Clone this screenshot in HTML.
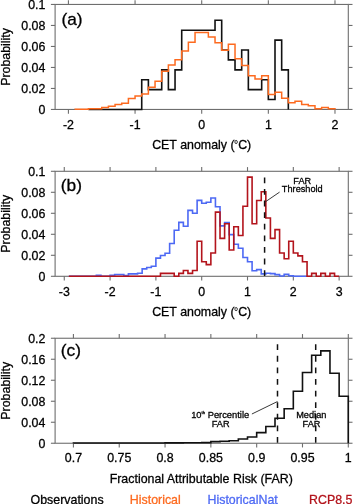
<!DOCTYPE html><html><head><meta charset="utf-8"><style>html,body{margin:0;padding:0;background:#fff;}svg{display:block;will-change:transform;}text{font-family:"Liberation Sans", sans-serif;fill:#000;stroke:#000;stroke-width:0.28px;}</style></head><body>
<svg width="357" height="504" viewBox="0 0 357 504">
<rect width="357" height="504" fill="#fff"/>
<rect x="55.1" y="4.45" width="293.2" height="105" fill="none" stroke="#6e6e6e" stroke-width="1.1"/>
<line x1="68.42" y1="109.45" x2="68.42" y2="113.65" stroke="#6e6e6e" stroke-width="1.1"/>
<line x1="68.42" y1="4.45" x2="68.42" y2="0.25" stroke="#6e6e6e" stroke-width="1.1"/>
<line x1="135.06" y1="109.45" x2="135.06" y2="113.65" stroke="#6e6e6e" stroke-width="1.1"/>
<line x1="135.06" y1="4.45" x2="135.06" y2="0.25" stroke="#6e6e6e" stroke-width="1.1"/>
<line x1="201.7" y1="109.45" x2="201.7" y2="113.65" stroke="#6e6e6e" stroke-width="1.1"/>
<line x1="201.7" y1="4.45" x2="201.7" y2="0.25" stroke="#6e6e6e" stroke-width="1.1"/>
<line x1="268.34" y1="109.45" x2="268.34" y2="113.65" stroke="#6e6e6e" stroke-width="1.1"/>
<line x1="268.34" y1="4.45" x2="268.34" y2="0.25" stroke="#6e6e6e" stroke-width="1.1"/>
<line x1="334.98" y1="109.45" x2="334.98" y2="113.65" stroke="#6e6e6e" stroke-width="1.1"/>
<line x1="334.98" y1="4.45" x2="334.98" y2="0.25" stroke="#6e6e6e" stroke-width="1.1"/>
<line x1="55.1" y1="109.45" x2="50.9" y2="109.45" stroke="#6e6e6e" stroke-width="1.1"/>
<line x1="348.3" y1="109.45" x2="352.5" y2="109.45" stroke="#6e6e6e" stroke-width="1.1"/>
<line x1="55.1" y1="88.45" x2="50.9" y2="88.45" stroke="#6e6e6e" stroke-width="1.1"/>
<line x1="348.3" y1="88.45" x2="352.5" y2="88.45" stroke="#6e6e6e" stroke-width="1.1"/>
<line x1="55.1" y1="67.45" x2="50.9" y2="67.45" stroke="#6e6e6e" stroke-width="1.1"/>
<line x1="348.3" y1="67.45" x2="352.5" y2="67.45" stroke="#6e6e6e" stroke-width="1.1"/>
<line x1="55.1" y1="46.45" x2="50.9" y2="46.45" stroke="#6e6e6e" stroke-width="1.1"/>
<line x1="348.3" y1="46.45" x2="352.5" y2="46.45" stroke="#6e6e6e" stroke-width="1.1"/>
<line x1="55.1" y1="25.45" x2="50.9" y2="25.45" stroke="#6e6e6e" stroke-width="1.1"/>
<line x1="348.3" y1="25.45" x2="352.5" y2="25.45" stroke="#6e6e6e" stroke-width="1.1"/>
<line x1="55.1" y1="4.45" x2="50.9" y2="4.45" stroke="#6e6e6e" stroke-width="1.1"/>
<line x1="348.3" y1="4.45" x2="352.5" y2="4.45" stroke="#6e6e6e" stroke-width="1.1"/>
<text x="68.42" y="128.85" text-anchor="middle" font-size="12.4">-2</text>
<text x="135.06" y="128.85" text-anchor="middle" font-size="12.4">-1</text>
<text x="201.7" y="128.85" text-anchor="middle" font-size="12.4">0</text>
<text x="268.34" y="128.85" text-anchor="middle" font-size="12.4">1</text>
<text x="334.98" y="128.85" text-anchor="middle" font-size="12.4">2</text>
<text x="45.4" y="113.75" text-anchor="end" font-size="12.4">0</text>
<text x="45.4" y="92.75" text-anchor="end" font-size="12.4">0.02</text>
<text x="45.4" y="71.75" text-anchor="end" font-size="12.4">0.04</text>
<text x="45.4" y="50.75" text-anchor="end" font-size="12.4">0.06</text>
<text x="45.4" y="29.75" text-anchor="end" font-size="12.4">0.08</text>
<text x="45.4" y="8.75" text-anchor="end" font-size="12.4">0.1</text>
<path d="M88.41,109.45 L88.41,109.45 L95.08,109.45 L95.08,109.45 L101.74,109.45 L101.74,109.45 L108.4,109.45 L108.4,109.45 L115.07,109.45 L115.07,109.45 L121.73,109.45 L121.73,109.45 L128.4,109.45 L128.4,109.45 L135.06,109.45 L135.06,109.45 L141.72,109.45 L141.72,79.73 L148.39,79.73 L148.39,89.64 L155.05,89.64 L155.05,89.64 L161.72,89.64 L161.72,69.83 L168.38,69.83 L168.38,89.64 L175.04,89.64 L175.04,69.83 L181.71,69.83 L181.71,30.2 L188.37,30.2 L188.37,30.2 L195.04,30.2 L195.04,30.2 L201.7,30.2 L201.7,30.2 L208.36,30.2 L208.36,30.2 L215.03,30.2 L215.03,20.3 L221.69,20.3 L221.69,50.02 L228.36,50.02 L228.36,59.92 L235.02,59.92 L235.02,69.83 L241.68,69.83 L241.68,50.02 L248.35,50.02 L248.35,89.64 L255.01,89.64 L255.01,89.64 L261.68,89.64 L261.68,79.73 L268.34,79.73 L268.34,99.54 L275,99.54 L275,40.11 L281.67,40.11 L281.67,69.83 L288.33,69.83 L288.33,109.45" fill="none" stroke="#111" stroke-width="1.6" stroke-linejoin="miter"/>
<path d="M75.08,109.45 L75.08,109.15 L81.75,109.15 L81.75,109.15 L88.41,109.15 L88.41,108.75 L95.08,108.75 L95.08,108.75 L101.74,108.75 L101.74,107.55 L108.4,107.55 L108.4,106.25 L115.07,106.25 L115.07,104.55 L121.73,104.55 L121.73,103.25 L128.4,103.25 L128.4,98.45 L135.06,98.45 L135.06,96.05 L141.72,96.05 L141.72,94.05 L148.39,94.05 L148.39,87.25 L155.05,87.25 L155.05,81.25 L161.72,81.25 L161.72,71.35 L168.38,71.35 L168.38,64.95 L175.04,64.95 L175.04,59.85 L181.71,59.85 L181.71,51.05 L188.37,51.05 L188.37,42.15 L195.04,42.15 L195.04,32.45 L201.7,32.45 L201.7,32.45 L208.36,32.45 L208.36,37.05 L215.03,37.05 L215.03,42.65 L221.69,42.65 L221.69,50.15 L228.36,50.15 L228.36,44.35 L235.02,44.35 L235.02,58.85 L241.68,58.85 L241.68,65.55 L248.35,65.55 L248.35,75.65 L255.01,75.65 L255.01,79.05 L261.68,79.05 L261.68,75.65 L268.34,75.65 L268.34,94.45 L275,94.45 L275,92.25 L281.67,92.25 L281.67,98.25 L288.33,98.25 L288.33,102.65 L295,102.65 L295,101.35 L301.66,101.35 L301.66,104.55 L308.32,104.55 L308.32,105.85 L314.99,105.85 L314.99,108.75 L321.65,108.75 L321.65,107.55 L328.32,107.55 L328.32,108.75 L334.98,108.75 L334.98,109.45" fill="none" stroke="#fd6a1f" stroke-width="1.5"/>
<text transform="translate(61.4,24.8) scale(1.08,1)" font-size="16">(a)</text>
<ellipse cx="236.1" cy="142.0" rx="1.25" ry="1.6" fill="none" stroke="#000" stroke-width="0.75"/>
<text x="201.7" y="148.9" text-anchor="middle" font-size="12.4">CET anomaly (<tspan font-size="6.5" dy="-4.6" style="fill:none;stroke:none">o</tspan><tspan dy="4.6">C)</tspan></text>
<text transform="translate(9.7,56.95) rotate(-90)" text-anchor="middle" font-size="12.4">Probability</text>
<rect x="55.1" y="171.3" width="293.2" height="105" fill="none" stroke="#6e6e6e" stroke-width="1.1"/>
<line x1="64.27" y1="276.3" x2="64.27" y2="280.5" stroke="#6e6e6e" stroke-width="1.1"/>
<line x1="64.27" y1="171.3" x2="64.27" y2="167.1" stroke="#6e6e6e" stroke-width="1.1"/>
<line x1="110.08" y1="276.3" x2="110.08" y2="280.5" stroke="#6e6e6e" stroke-width="1.1"/>
<line x1="110.08" y1="171.3" x2="110.08" y2="167.1" stroke="#6e6e6e" stroke-width="1.1"/>
<line x1="155.89" y1="276.3" x2="155.89" y2="280.5" stroke="#6e6e6e" stroke-width="1.1"/>
<line x1="155.89" y1="171.3" x2="155.89" y2="167.1" stroke="#6e6e6e" stroke-width="1.1"/>
<line x1="201.7" y1="276.3" x2="201.7" y2="280.5" stroke="#6e6e6e" stroke-width="1.1"/>
<line x1="201.7" y1="171.3" x2="201.7" y2="167.1" stroke="#6e6e6e" stroke-width="1.1"/>
<line x1="247.51" y1="276.3" x2="247.51" y2="280.5" stroke="#6e6e6e" stroke-width="1.1"/>
<line x1="247.51" y1="171.3" x2="247.51" y2="167.1" stroke="#6e6e6e" stroke-width="1.1"/>
<line x1="293.32" y1="276.3" x2="293.32" y2="280.5" stroke="#6e6e6e" stroke-width="1.1"/>
<line x1="293.32" y1="171.3" x2="293.32" y2="167.1" stroke="#6e6e6e" stroke-width="1.1"/>
<line x1="339.13" y1="276.3" x2="339.13" y2="280.5" stroke="#6e6e6e" stroke-width="1.1"/>
<line x1="339.13" y1="171.3" x2="339.13" y2="167.1" stroke="#6e6e6e" stroke-width="1.1"/>
<line x1="55.1" y1="276.3" x2="50.9" y2="276.3" stroke="#6e6e6e" stroke-width="1.1"/>
<line x1="348.3" y1="276.3" x2="352.5" y2="276.3" stroke="#6e6e6e" stroke-width="1.1"/>
<line x1="55.1" y1="255.3" x2="50.9" y2="255.3" stroke="#6e6e6e" stroke-width="1.1"/>
<line x1="348.3" y1="255.3" x2="352.5" y2="255.3" stroke="#6e6e6e" stroke-width="1.1"/>
<line x1="55.1" y1="234.3" x2="50.9" y2="234.3" stroke="#6e6e6e" stroke-width="1.1"/>
<line x1="348.3" y1="234.3" x2="352.5" y2="234.3" stroke="#6e6e6e" stroke-width="1.1"/>
<line x1="55.1" y1="213.3" x2="50.9" y2="213.3" stroke="#6e6e6e" stroke-width="1.1"/>
<line x1="348.3" y1="213.3" x2="352.5" y2="213.3" stroke="#6e6e6e" stroke-width="1.1"/>
<line x1="55.1" y1="192.3" x2="50.9" y2="192.3" stroke="#6e6e6e" stroke-width="1.1"/>
<line x1="348.3" y1="192.3" x2="352.5" y2="192.3" stroke="#6e6e6e" stroke-width="1.1"/>
<line x1="55.1" y1="171.3" x2="50.9" y2="171.3" stroke="#6e6e6e" stroke-width="1.1"/>
<line x1="348.3" y1="171.3" x2="352.5" y2="171.3" stroke="#6e6e6e" stroke-width="1.1"/>
<text x="64.27" y="295.7" text-anchor="middle" font-size="12.4">-3</text>
<text x="110.08" y="295.7" text-anchor="middle" font-size="12.4">-2</text>
<text x="155.89" y="295.7" text-anchor="middle" font-size="12.4">-1</text>
<text x="201.7" y="295.7" text-anchor="middle" font-size="12.4">0</text>
<text x="247.51" y="295.7" text-anchor="middle" font-size="12.4">1</text>
<text x="293.32" y="295.7" text-anchor="middle" font-size="12.4">2</text>
<text x="339.13" y="295.7" text-anchor="middle" font-size="12.4">3</text>
<text x="45.4" y="280.6" text-anchor="end" font-size="12.4">0</text>
<text x="45.4" y="259.6" text-anchor="end" font-size="12.4">0.02</text>
<text x="45.4" y="238.6" text-anchor="end" font-size="12.4">0.04</text>
<text x="45.4" y="217.6" text-anchor="end" font-size="12.4">0.06</text>
<text x="45.4" y="196.6" text-anchor="end" font-size="12.4">0.08</text>
<text x="45.4" y="175.6" text-anchor="end" font-size="12.4">0.1</text>
<path d="M68.85,276.3 L68.85,276.3 L73.43,276.3 L73.43,276.3 L78.01,276.3 L78.01,276.3 L82.59,276.3 L82.59,276.3 L87.17,276.3 L87.17,276.3 L91.76,276.3 L91.76,276.3 L96.34,276.3 L96.34,275.4 L100.92,275.4 L100.92,276.3 L105.5,276.3 L105.5,276.3 L110.08,276.3 L110.08,275.3 L114.66,275.3 L114.66,274.5 L119.24,274.5 L119.24,274.5 L123.82,274.5 L123.82,275.6 L128.4,275.6 L128.4,273.9 L132.99,273.9 L132.99,273.9 L137.57,273.9 L137.57,273.3 L142.15,273.3 L142.15,268.9 L146.73,268.9 L146.73,267.5 L151.31,267.5 L151.31,266.2 L155.89,266.2 L155.89,258.1 L160.47,258.1 L160.47,255.5 L165.05,255.5 L165.05,253.3 L169.63,253.3 L169.63,243.5 L174.21,243.5 L174.21,230.3 L178.8,230.3 L178.8,222.4 L183.38,222.4 L183.38,226.2 L187.96,226.2 L187.96,210.4 L192.54,210.4 L192.54,213.3 L197.12,213.3 L197.12,200.4 L201.7,200.4 L201.7,203.2 L206.28,203.2 L206.28,202.2 L210.86,202.2 L210.86,198 L215.44,198 L215.44,206.7 L220.02,206.7 L220.02,225.9 L224.61,225.9 L224.61,222.6 L229.19,222.6 L229.19,234.6 L233.77,234.6 L233.77,244.3 L238.35,244.3 L238.35,248.2 L242.93,248.2 L242.93,257.5 L247.51,257.5 L247.51,261.7 L252.09,261.7 L252.09,270.7 L256.67,270.7 L256.67,269.6 L261.25,269.6 L261.25,273.9 L265.83,273.9 L265.83,273.2 L270.42,273.2 L270.42,273.6 L275,273.6 L275,274.6 L279.58,274.6 L279.58,276 L284.16,276 L284.16,274.4 L288.74,274.4 L288.74,275.8 L293.32,275.8 L293.32,276.3 L297.9,276.3 L297.9,276.3 L302.48,276.3 L302.48,276.3 L307.06,276.3 L307.06,276.3" fill="none" stroke="#4d69f4" stroke-width="1.6"/>
<path d="M68.85,276.3 L68.85,276.3 L73.43,276.3 L73.43,276.3 L78.01,276.3 L78.01,276.3 L82.59,276.3 L82.59,276.3 L87.17,276.3 L87.17,276.3 L91.76,276.3 L91.76,276.3 L96.34,276.3 L96.34,276.3 L100.92,276.3 L100.92,276.3 L105.5,276.3 L105.5,276.3 L110.08,276.3 L110.08,276.3 L114.66,276.3 L114.66,276.3 L119.24,276.3 L119.24,276.3 L123.82,276.3 L123.82,276.3 L128.4,276.3 L128.4,276.3 L132.99,276.3 L132.99,276.3 L137.57,276.3 L137.57,276.3 L142.15,276.3 L142.15,276.3 L146.73,276.3 L146.73,276.3 L151.31,276.3 L151.31,276.3 L155.89,276.3 L155.89,276.3 L160.47,276.3 L160.47,273.38 L165.05,273.38 L165.05,273.38 L169.63,273.38 L169.63,273.38 L174.21,273.38 L174.21,276.3 L178.8,276.3 L178.8,273.38 L183.38,273.38 L183.38,270.47 L187.96,270.47 L187.96,273.38 L192.54,273.38 L192.54,270.47 L197.12,270.47 L197.12,241.3 L201.7,241.3 L201.7,261.72 L206.28,261.72 L206.28,264.63 L210.86,264.63 L210.86,252.97 L215.44,252.97 L215.44,212.13 L220.02,212.13 L220.02,238.38 L224.61,238.38 L224.61,223.8 L229.19,223.8 L229.19,250.05 L233.77,250.05 L233.77,226.72 L238.35,226.72 L238.35,235.47 L242.93,235.47 L242.93,206.3 L247.51,206.3 L247.51,177.13 L252.09,177.13 L252.09,223.8 L256.67,223.8 L256.67,200.47 L261.25,200.47 L261.25,191.72 L265.83,191.72 L265.83,217.97 L270.42,217.97 L270.42,238.38 L275,238.38 L275,229.63 L279.58,229.63 L279.58,252.97 L284.16,252.97 L284.16,258.8 L288.74,258.8 L288.74,241.3 L293.32,241.3 L293.32,252.97 L297.9,252.97 L297.9,255.88 L302.48,255.88 L302.48,261.72 L307.06,261.72 L307.06,276.3 L311.64,276.3 L311.64,273.38 L316.23,273.38 L316.23,276.3 L320.81,276.3 L320.81,273.38 L325.39,273.38 L325.39,276.3 L329.97,276.3 L329.97,273.38 L334.55,273.38 L334.55,276.3 L339.13,276.3 L339.13,276.3" fill="none" stroke="#b3141c" stroke-width="1.6"/>
<line x1="264.6" y1="177.4" x2="264.6" y2="276.3" stroke="#111" stroke-width="1.5" stroke-dasharray="5.8 5.8"/>
<line x1="265.4" y1="201.8" x2="279.6" y2="192.1" stroke="#222" stroke-width="0.9"/>
<text x="302.3" y="183.9" text-anchor="middle" font-size="9.2">FAR</text>
<text x="302.3" y="192.4" text-anchor="middle" font-size="9.2">Threshold</text>
<text transform="translate(60.8,190.5) scale(1.08,1)" font-size="16">(b)</text>
<ellipse cx="236.1" cy="309.1" rx="1.25" ry="1.6" fill="none" stroke="#000" stroke-width="0.75"/>
<text x="201.7" y="316.0" text-anchor="middle" font-size="12.4">CET anomaly (<tspan font-size="6.5" dy="-4.6" style="fill:none;stroke:none">o</tspan><tspan dy="4.6">C)</tspan></text>
<text transform="translate(9.7,223.8) rotate(-90)" text-anchor="middle" font-size="12.4">Probability</text>
<rect x="55.1" y="338.25" width="293.2" height="105" fill="none" stroke="#6e6e6e" stroke-width="1.1"/>
<line x1="73.42" y1="443.25" x2="73.42" y2="447.45" stroke="#6e6e6e" stroke-width="1.1"/>
<line x1="73.42" y1="338.25" x2="73.42" y2="334.05" stroke="#6e6e6e" stroke-width="1.1"/>
<line x1="119.24" y1="443.25" x2="119.24" y2="447.45" stroke="#6e6e6e" stroke-width="1.1"/>
<line x1="119.24" y1="338.25" x2="119.24" y2="334.05" stroke="#6e6e6e" stroke-width="1.1"/>
<line x1="165.05" y1="443.25" x2="165.05" y2="447.45" stroke="#6e6e6e" stroke-width="1.1"/>
<line x1="165.05" y1="338.25" x2="165.05" y2="334.05" stroke="#6e6e6e" stroke-width="1.1"/>
<line x1="210.86" y1="443.25" x2="210.86" y2="447.45" stroke="#6e6e6e" stroke-width="1.1"/>
<line x1="210.86" y1="338.25" x2="210.86" y2="334.05" stroke="#6e6e6e" stroke-width="1.1"/>
<line x1="256.68" y1="443.25" x2="256.68" y2="447.45" stroke="#6e6e6e" stroke-width="1.1"/>
<line x1="256.68" y1="338.25" x2="256.68" y2="334.05" stroke="#6e6e6e" stroke-width="1.1"/>
<line x1="302.49" y1="443.25" x2="302.49" y2="447.45" stroke="#6e6e6e" stroke-width="1.1"/>
<line x1="302.49" y1="338.25" x2="302.49" y2="334.05" stroke="#6e6e6e" stroke-width="1.1"/>
<line x1="348.3" y1="443.25" x2="348.3" y2="447.45" stroke="#6e6e6e" stroke-width="1.1"/>
<line x1="348.3" y1="338.25" x2="348.3" y2="334.05" stroke="#6e6e6e" stroke-width="1.1"/>
<line x1="55.1" y1="443.25" x2="50.9" y2="443.25" stroke="#6e6e6e" stroke-width="1.1"/>
<line x1="348.3" y1="443.25" x2="352.5" y2="443.25" stroke="#6e6e6e" stroke-width="1.1"/>
<line x1="55.1" y1="422.25" x2="50.9" y2="422.25" stroke="#6e6e6e" stroke-width="1.1"/>
<line x1="348.3" y1="422.25" x2="352.5" y2="422.25" stroke="#6e6e6e" stroke-width="1.1"/>
<line x1="55.1" y1="401.25" x2="50.9" y2="401.25" stroke="#6e6e6e" stroke-width="1.1"/>
<line x1="348.3" y1="401.25" x2="352.5" y2="401.25" stroke="#6e6e6e" stroke-width="1.1"/>
<line x1="55.1" y1="380.25" x2="50.9" y2="380.25" stroke="#6e6e6e" stroke-width="1.1"/>
<line x1="348.3" y1="380.25" x2="352.5" y2="380.25" stroke="#6e6e6e" stroke-width="1.1"/>
<line x1="55.1" y1="359.25" x2="50.9" y2="359.25" stroke="#6e6e6e" stroke-width="1.1"/>
<line x1="348.3" y1="359.25" x2="352.5" y2="359.25" stroke="#6e6e6e" stroke-width="1.1"/>
<line x1="55.1" y1="338.25" x2="50.9" y2="338.25" stroke="#6e6e6e" stroke-width="1.1"/>
<line x1="348.3" y1="338.25" x2="352.5" y2="338.25" stroke="#6e6e6e" stroke-width="1.1"/>
<text x="73.42" y="462.3" text-anchor="middle" font-size="12.4">0.7</text>
<text x="119.24" y="462.3" text-anchor="middle" font-size="12.4">0.75</text>
<text x="165.05" y="462.3" text-anchor="middle" font-size="12.4">0.8</text>
<text x="210.86" y="462.3" text-anchor="middle" font-size="12.4">0.85</text>
<text x="256.68" y="462.3" text-anchor="middle" font-size="12.4">0.9</text>
<text x="302.49" y="462.3" text-anchor="middle" font-size="12.4">0.95</text>
<text x="348.3" y="462.3" text-anchor="middle" font-size="12.4">1</text>
<text x="45.4" y="448.15" text-anchor="end" font-size="12.4">0</text>
<text x="45.4" y="427.15" text-anchor="end" font-size="12.4">0.04</text>
<text x="45.4" y="406.15" text-anchor="end" font-size="12.4">0.08</text>
<text x="45.4" y="385.15" text-anchor="end" font-size="12.4">0.12</text>
<text x="45.4" y="364.15" text-anchor="end" font-size="12.4">0.16</text>
<text x="45.4" y="343.15" text-anchor="end" font-size="12.4">0.2</text>
<path d="M73.42,443.25 L73.42,442.95 L82.59,442.95 L82.59,442.95 L91.75,442.95 L91.75,442.95 L100.91,442.95 L100.91,442.95 L110.07,442.95 L110.07,442.95 L119.24,442.95 L119.24,442.95 L128.4,442.95 L128.4,442.95 L137.56,442.95 L137.56,442.95 L146.72,442.95 L146.72,442.95 L155.89,442.95 L155.89,442.95 L165.05,442.95 L165.05,442.85 L174.21,442.85 L174.21,442.85 L183.37,442.85 L183.37,442.75 L192.54,442.75 L192.54,442.75 L201.7,442.75 L201.7,442.65 L210.86,442.65 L210.86,441.65 L220.02,441.65 L220.02,441.25 L229.19,441.25 L229.19,440.75 L238.35,440.75 L238.35,438.95 L247.51,438.95 L247.51,436.95 L256.67,436.95 L256.67,432.65 L265.84,432.65 L265.84,426.45 L275,426.45 L275,418.25 L284.16,418.25 L284.16,408.75 L293.32,408.75 L293.32,391.25 L302.49,391.25 L302.49,372.55 L311.65,372.55 L311.65,355.25 L320.81,355.25 L320.81,350.85 L329.97,350.85 L329.97,373.25 L339.14,373.25 L339.14,396.25 L348.3,396.25 L348.3,443.25" fill="none" stroke="#111" stroke-width="1.6"/>
<line x1="277.5" y1="344.25" x2="277.5" y2="443.25" stroke="#111" stroke-width="1.5" stroke-dasharray="5.8 5.8"/>
<line x1="315.7" y1="344.25" x2="315.7" y2="443.25" stroke="#111" stroke-width="1.5" stroke-dasharray="5.8 5.8"/>
<line x1="251.9" y1="414.0" x2="277.5" y2="401.5" stroke="#222" stroke-width="0.9"/>
<text x="220.2" y="418.3" text-anchor="middle" font-size="9.35">10<tspan font-size="4.2" dy="-4">th</tspan><tspan dy="4"> Percentile</tspan></text>
<text x="220.7" y="427.2" text-anchor="middle" font-size="9.2">FAR</text>
<text x="311.3" y="418.0" text-anchor="middle" font-size="9.2">Median</text>
<text x="311.5" y="426.6" text-anchor="middle" font-size="9.2">FAR</text>
<text transform="translate(60.8,356.1) scale(1.08,1)" font-size="16">(c)</text>
<text x="201.25" y="483.0" text-anchor="middle" font-size="12.4">Fractional Attributable Risk (FAR)</text>
<text transform="translate(9.7,390.75) rotate(-90)" text-anchor="middle" font-size="12.4">Probability</text>
<text x="30.6" y="504.2" font-size="12.4" style="fill:#000">Observations</text>
<text x="129.8" y="504.2" font-size="12.4" style="fill:#fd6a1f;stroke:#fd6a1f">Historical</text>
<text x="207.5" y="504.2" font-size="12.4" style="fill:#4d69f4;stroke:#4d69f4">HistoricalNat</text>
<text x="309" y="504.2" font-size="12.4" style="fill:#b3141c;stroke:#b3141c">RCP8.5</text>
</svg></body></html>
